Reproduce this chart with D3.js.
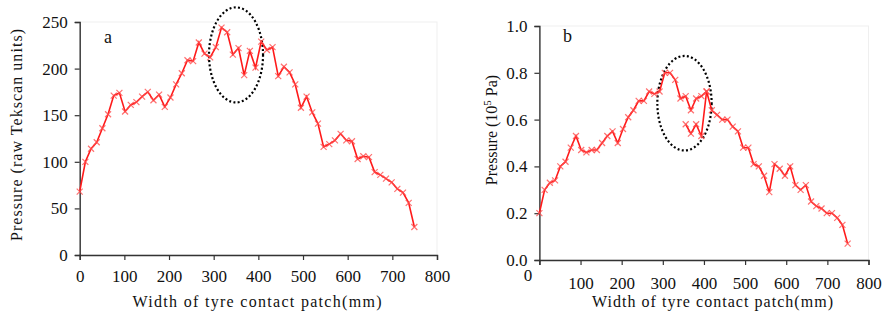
<!DOCTYPE html>
<html>
<head>
<meta charset="utf-8">
<script src="https://cdn.jsdelivr.net/npm/d3@7"></script>
<style>
  body { margin: 0; background: #fff; }
  svg { display: block; font-family: "Liberation Serif", "Times New Roman", serif; }
</style>
</head>
<body>
<svg id="chart" width="887" height="322"></svg>
<script>
// Measurement positions across the tyre contact patch (mm)
const widthMm = [
  0, 12.7, 25.4, 38.1, 50.8, 63.5, 76.2, 88.9, 101.6, 114.3,
  127, 139.7, 152.4, 165.1, 177.8, 190.5, 203.2, 215.9, 228.6, 241.3,
  254, 266.7, 279.4, 292.1, 304.8, 317.5, 330.2, 342.9, 355.6, 368.3,
  381, 393.7, 406.4, 419.1, 431.8, 444.5, 457.2, 469.9, 482.6, 495.3,
  508, 520.7, 533.4, 546.1, 558.8, 571.5, 584.2, 596.9, 609.6, 622.3,
  635, 647.7, 660.4, 673.1, 685.8, 698.5, 711.2, 723.9, 736.6, 749.3
];

// (a) raw Tekscan units
const rawUnits = [
  68, 100, 114, 121, 136, 151, 171, 174, 154, 161,
  164, 170, 175, 166, 172, 159, 169, 183, 195, 209,
  208, 228, 216, 212, 223, 244, 239, 215, 222, 193,
  219, 201, 229, 220, 223, 192, 202, 196, 183, 158,
  170, 153, 141, 116, 119, 123, 130, 123, 122, 103,
  106, 105, 89, 86, 82, 78, 71, 67, 56, 30
];

// (b) pressure, 10^5 Pa
const pressurePa = [
  0.20, 0.30, 0.33, 0.34, 0.40, 0.42, 0.48, 0.53, 0.47, 0.46,
  0.47, 0.47, 0.50, 0.53, 0.55, 0.50, 0.56, 0.61, 0.64, 0.68,
  0.68, 0.72, 0.71, 0.72, 0.80, 0.80, 0.77, 0.69, 0.70, 0.64,
  0.69, 0.70, 0.72, 0.64, 0.62, 0.60, 0.60, 0.57, 0.55, 0.48,
  0.48, 0.41, 0.40, 0.36, 0.29, 0.41, 0.39, 0.36, 0.40, 0.32,
  0.30, 0.32, 0.25, 0.23, 0.22, 0.20, 0.20, 0.18, 0.15, 0.07
];

// (b) second reading inside the circled region
const altWidthMm = [355.6, 368.3, 381, 393.7, 406.4];
const altPressurePa = [0.58, 0.54, 0.58, 0.53, 0.72];

// Axis ticks
const xTicks = [0, 100, 200, 300, 400, 500, 600, 700, 800];
const yTicksA = [0, 50, 100, 150, 200, 250];
const yTicksB = [0, 0.2, 0.4, 0.6, 0.8, 1.0];

// Circled region: centre x, centre y, radius x, radius y (data units)
const circleA = [350, 214.7, 60.5, 51];
const circleB = [352.7, 0.67, 66, 0.202];

const svg = d3.select('#chart');
const red = '#ff1a1a';

function drawPanel(opts) {
  const g = svg.append('g');
  const x = d3.scaleLinear().domain([0, 800]).range(opts.xRange);
  const y = d3.scaleLinear().domain(opts.yDomain).range(opts.yRange);

  // faint plot area border
  g.append('rect')
    .attr('x', x(0)).attr('y', y(opts.yDomain[1]))
    .attr('width', x(800) - x(0)).attr('height', y(opts.yDomain[0]) - y(opts.yDomain[1]))
    .attr('fill', 'none').attr('stroke', '#efefef').attr('stroke-width', 1);

  // X axis
  const xAxis = g.append('g')
    .attr('transform', `translate(0,${y(opts.yDomain[0])})`)
    .call(d3.axisBottom(x).tickValues(xTicks).tickSize(5).tickPadding(opts.xPad).tickFormat(d3.format('d')));

  // Y axis
  const yAxis = g.append('g')
    .attr('transform', `translate(${x(0)},0)`)
    .call(d3.axisLeft(y).tickValues(opts.yTicks).tickSize(5).tickPadding(7).tickFormat(opts.yFormat));

  [xAxis, yAxis].forEach(a => {
    a.select('.domain').attr('stroke', '#333').attr('stroke-width', 1.4);
    a.selectAll('.tick line').attr('stroke', '#333').attr('stroke-width', 1.2);
    a.selectAll('text').attr('fill', '#111').style('font-size', '17px')
      .style('font-family', '"Liberation Serif", serif');
  });
  if (opts.shiftZero) {
    xAxis.selectAll('.tick').filter(d => d === 0).select('text')
      .attr('transform', 'translate(-12,-8)');
  }

  // Dotted ellipse
  const c = opts.circle;
  g.append('ellipse')
    .attr('cx', x(c[0])).attr('cy', y(c[1]))
    .attr('rx', x(c[2]) - x(0)).attr('ry', y(0 + opts.yDomain[0]) - y(opts.yDomain[0] + c[3]))
    .attr('fill', 'none').attr('stroke', '#000')
    .attr('stroke-width', 2.2).attr('stroke-dasharray', '2,2.3');

  // Lines and markers
  opts.series.forEach(s => {
    const pts = s.xs.map((v, i) => [v, s.ys[i]]);
    g.append('path')
      .datum(pts)
      .attr('fill', 'none')
      .attr('stroke', red)
      .attr('stroke-width', 1.6)
      .attr('d', d3.line().x(d => x(d[0])).y(d => y(d[1])));
    g.append('g').selectAll('path')
      .data(pts)
      .join('path')
      .attr('d', d => {
        const px = x(d[0]), py = y(d[1]), r = 3;
        return `M${px - r},${py - r}L${px + r},${py + r}M${px - r},${py + r}L${px + r},${py - r}`;
      })
      .attr('stroke', '#ff4d4d').attr('stroke-opacity', 0.8).attr('stroke-width', 1.2);
  });

  // Panel letter
  g.append('text')
    .attr('x', opts.letterPos[0]).attr('y', opts.letterPos[1])
    .style('font-size', '18px').attr('fill', '#111')
    .text(opts.letter);

  // X title
  g.append('text')
    .attr('x', opts.xTitlePos[0]).attr('y', 307)
    .attr('text-anchor', 'middle')
    .attr('textLength', opts.xTitleLen).attr('lengthAdjust', 'spacing')
    .style('font-size', '16px').attr('fill', '#111')
    .text('Width of tyre contact patch(mm)');

  return g;
}

const gA = drawPanel({
  xRange: [79.7, 437], yDomain: [0, 250], yRange: [255, 22],
  yTicks: yTicksA, yFormat: d3.format('d'), xPad: 10,
  circle: circleA, letter: 'a', letterPos: [104, 43],
  xTitlePos: [257, 0], xTitleLen: 249,
  series: [{ xs: widthMm, ys: rawUnits }]
});

gA.append('text')
  .attr('transform', 'translate(22,135) rotate(-90)')
  .attr('text-anchor', 'middle')
  .attr('textLength', 212).attr('lengthAdjust', 'spacing')
  .style('font-size', '16px').attr('fill', '#111')
  .text('Pressure (raw Tekscan units)');

const gB = drawPanel({
  xRange: [539.4, 868.5], yDomain: [0, 1], yRange: [260, 26],
  yTicks: yTicksB, yFormat: d3.format('.1f'), xPad: 12, shiftZero: true,
  circle: circleB, letter: 'b', letterPos: [563, 42],
  xTitlePos: [712.5, 0], xTitleLen: 241,
  series: [{ xs: widthMm, ys: pressurePa }, { xs: altWidthMm, ys: altPressurePa }]
});

const yTitleB = gB.append('text')
  .attr('transform', 'translate(497,130) rotate(-90)')
  .attr('text-anchor', 'middle')
  .style('font-size', '16px').attr('fill', '#111');
yTitleB.append('tspan').text('Pressure (10');
yTitleB.append('tspan').attr('dy', -6).style('font-size', '11px').text('5');
yTitleB.append('tspan').attr('dy', 6).text(' Pa)');
</script>
</body>
</html>
